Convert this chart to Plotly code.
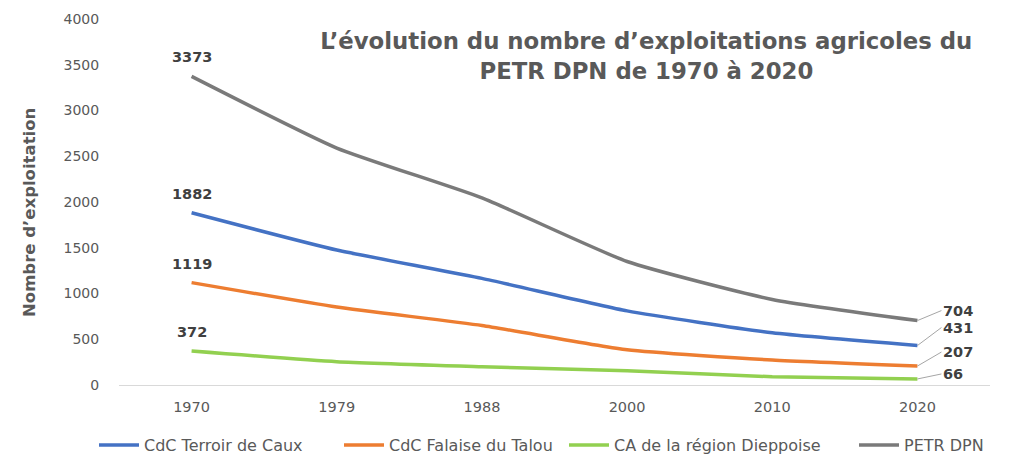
import plotly.graph_objects as go

years = ["1970", "1979", "1988", "2000", "2010", "2020"]
terroir = [1882, 1475, 1165, 810, 570, 431]
falaise = [1119, 852, 650, 385, 273, 207]
dieppoise = [372, 255, 200, 155, 90, 66]
petr = [3373, 2590, 2045, 1350, 935, 704]

series = [
    ("CdC Terroir de Caux", terroir, "#4472C4"),
    ("CdC Falaise du Talou", falaise, "#ED7D31"),
    ("CA de la région Dieppoise", dieppoise, "#92D050"),
    ("PETR DPN", petr, "#7A7A7A"),
]
legend_ids = ["legend", "legend2", "legend3", "legend4"]
legend_x_px = [86, 331, 556, 846]

fig = go.Figure()
for i, (name, vals, color) in enumerate(series):
    fig.add_trace(go.Scatter(
        x=years, y=vals, name=name, mode="lines",
        line=dict(color=color, width=3.5, shape="spline", smoothing=0.5),
        hovertemplate=name + ": %{y}<extra></extra>",
        legend=legend_ids[i],
    ))

first_idx = 0
last_idx = len(years) - 1
label_font = dict(family="DejaVu Sans", size=14.5, color="#404040")
annotations = []
for name, vals, color in series:
    annotations.append(dict(
        x=first_idx, y=vals[0], text="<b>%d</b>" % vals[0], showarrow=False,
        yanchor="bottom", yshift=9, font=label_font,
    ))
offsets = {"PETR DPN": -10, "CdC Terroir de Caux": -18,
           "CdC Falaise du Talou": -14, "CA de la région Dieppoise": -5}
for name, vals, color in series:
    annotations.append(dict(
        x=last_idx, y=vals[-1], text="<b>%d</b>" % vals[-1], showarrow=True,
        arrowhead=0, arrowwidth=1, arrowcolor="#A6A6A6",
        ax=24, ay=offsets[name], xanchor="left", font=label_font,
    ))
# y-axis title
annotations.append(dict(
    text="<b>Nombre d’exploitation</b>", textangle=-90, showarrow=False,
    xref="paper", yref="paper", x=-0.1022, y=0.4727,
    xanchor="center", yanchor="middle",
    font=dict(family="DejaVu Sans", size=16.5, color="#595959"),
))

W, H = 1023, 458
legend_common = dict(
    orientation="h", xanchor="left", xref="container",
    y=1 - 437 / H, yanchor="middle", yref="container",
    font=dict(family="DejaVu Sans", size=16, color="#595959"),
    itemwidth=40, bgcolor="rgba(0,0,0,0)",
)
legends = {}
for lid, px in zip(legend_ids, legend_x_px):
    legends[lid] = dict(legend_common, x=px / W)

fig.update_layout(
    width=W, height=H,
    margin=dict(l=111, r=41, t=11, b=81, autoexpand=False),
    paper_bgcolor="white", plot_bgcolor="white",
    font=dict(family="DejaVu Sans", color="#595959"),
    title=dict(
        text="<b>L’évolution du nombre d’exploitations agricoles du<br>PETR DPN de 1970 à 2020</b>",
        x=0.624, xanchor="center", xref="container",
        y=1 - 41 / H, yanchor="middle", yref="container",
        font=dict(family="DejaVu Sans", size=22.8, color="#595959"),
    ),
    xaxis=dict(
        type="category", range=[-0.5, len(years) - 0.5],
        showgrid=False, zeroline=False, automargin=False,
        showline=True, linecolor="#D9D9D9", linewidth=1,
        ticks="outside", ticklen=9, tickcolor="rgba(0,0,0,0)",
        tickfont=dict(family="DejaVu Sans", size=14.5, color="#595959"),
    ),
    yaxis=dict(
        range=[0, 4000], dtick=500, showgrid=False, zeroline=False,
        showline=False, automargin=False,
        ticks="outside", ticklen=16, tickcolor="rgba(0,0,0,0)",
        tickfont=dict(family="DejaVu Sans", size=14, color="#595959"),
    ),
    annotations=annotations,
    showlegend=True,
    **legends,
)

fig.write_html("out.html")
